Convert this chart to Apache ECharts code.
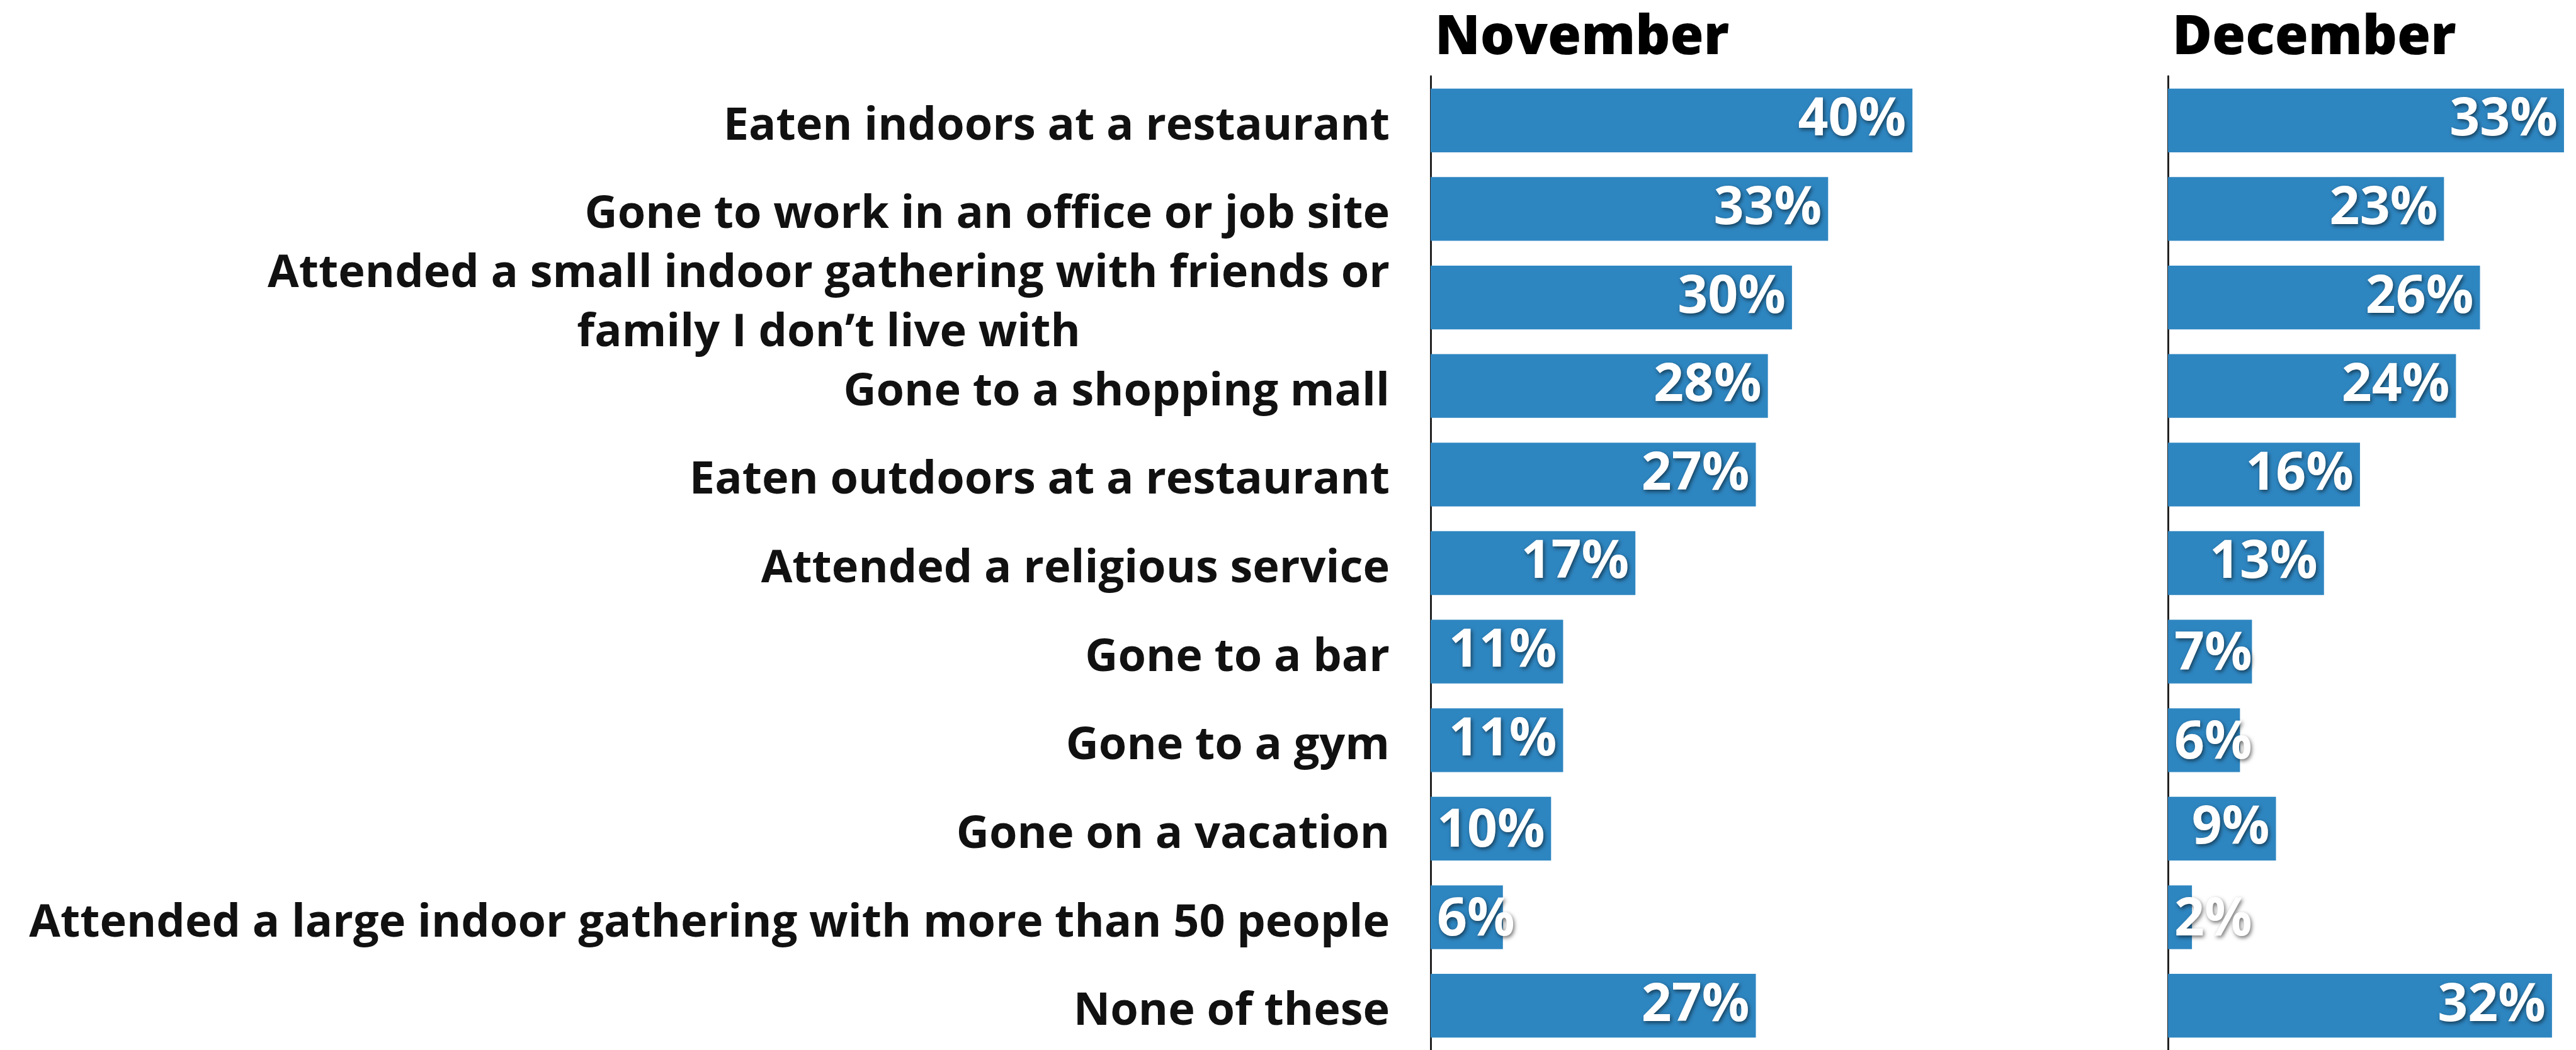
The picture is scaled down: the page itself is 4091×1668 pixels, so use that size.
<!DOCTYPE html>
<html>
<head>
<meta charset="utf-8">
<style>
html,body{margin:0;padding:0;background:#fff;}
#chart{width:4091px;height:1668px;}
</style>
<script src="https://cdn.jsdelivr.net/npm/echarts@6/dist/echarts.min.js"></script>
</head>
<body>
<div id="chart"></div>
<script>
// ---- data ----
const categories = [
  'Eaten indoors at a restaurant',
  'Gone to work in an office or job site',
  'Attended a small indoor gathering with friends or\nfamily I don\u2019t live with',
  'Gone to a shopping mall',
  'Eaten outdoors at a restaurant',
  'Attended a religious service',
  'Gone to a bar',
  'Gone to a gym',
  'Gone on a vacation',
  'Attended a large indoor gathering with more than 50 people',
  'None of these'
];
const novemberValues = [40, 33, 30, 28, 27, 17, 11, 11, 10, 6, 27];
const decemberValues = [33, 23, 26, 24, 16, 13, 7, 6, 9, 2, 32];
const panelTitles = ['November', 'December'];

// ---- style ----
const FONT = '"Open Sans", Lato, sans-serif';
const LABEL_SIZE = 72;
const BAR_COLOR = '#2e86c1';

function measure(text) {
  const c = document.createElement('canvas').getContext('2d');
  c.font = 'bold ' + LABEL_SIZE + 'px ' + FONT;
  return c.measureText(text).width;
}

const chart = echarts.init(document.getElementById('chart'));

const gridTop = 121, gridHeight = 1558;
const grids = [
  { left: 2272, top: gridTop, width: 956.5, height: gridHeight },
  { left: 3443, top: gridTop, width: 650.4, height: gridHeight }
];
const maxes = [50, 34];

function barLabel() {
  return {
    show: true,
    position: 'insideRight',
    distance: 10,
    offset: [0, 5],
    formatter: '{c}%',
    color: '#fff',
    fontFamily: FONT,
    fontWeight: 'bold',
    fontSize: 84,
    textShadowColor: 'rgba(0,0,0,0.55)',
    textShadowBlur: 6,
    textShadowOffsetX: 2,
    textShadowOffsetY: 3
  };
}

function layoutFn(p) {
  const minX = p.rect.x + 10;
  if (p.labelRect.x < minX) {
    return { x: minX, y: p.labelRect.y + p.labelRect.height / 2, align: 'left', verticalAlign: 'middle' };
  }
  return {};
}

const option = {
  backgroundColor: '#fff',
  animation: false,
  title: panelTitles.map((t, i) => ({
    text: t,
    left: grids[i].left + 2,
    top: 13,
    textStyle: { fontFamily: FONT, fontWeight: 800, fontSize: 86, color: '#000' }
  })),
  grid: grids,
  xAxis: grids.map((g, i) => ({
    type: 'value', gridIndex: i, min: 0, max: maxes[i],
    show: false
  })),
  yAxis: grids.map((g, i) => ({
    type: 'category', gridIndex: i, data: categories, inverse: true,
    axisLine: { show: true, lineStyle: { color: '#222', width: 3 } },
    axisTick: { show: false },
    axisLabel: i === 0 ? {
      show: true,
      margin: 65,
      fontFamily: FONT,
      fontWeight: 'bold',
      fontSize: LABEL_SIZE,
      color: '#111',
      lineHeight: 94,
      padding: [20, 0, 0, 0],
      formatter: function (v) {
        if (v.indexOf('\n') < 0) return v;
        return v.split('\n').map(l => '{c|' + l + '}').join('\n');
      },
      rich: {
        c: {
          width: measure(categories[2].split('\n')[0]),
          align: 'center',
          fontFamily: FONT, fontWeight: 'bold', fontSize: LABEL_SIZE, color: '#111', lineHeight: 94
        }
      }
    } : { show: false }
  })),
  series: [novemberValues, decemberValues].map((vals, i) => ({
    type: 'bar',
    xAxisIndex: i, yAxisIndex: i,
    data: vals,
    barCategoryGap: '28%',
    itemStyle: { color: BAR_COLOR },
    label: barLabel(),
    labelLayout: layoutFn
  }))
};
chart.setOption(option);
</script>
</body>
</html>
